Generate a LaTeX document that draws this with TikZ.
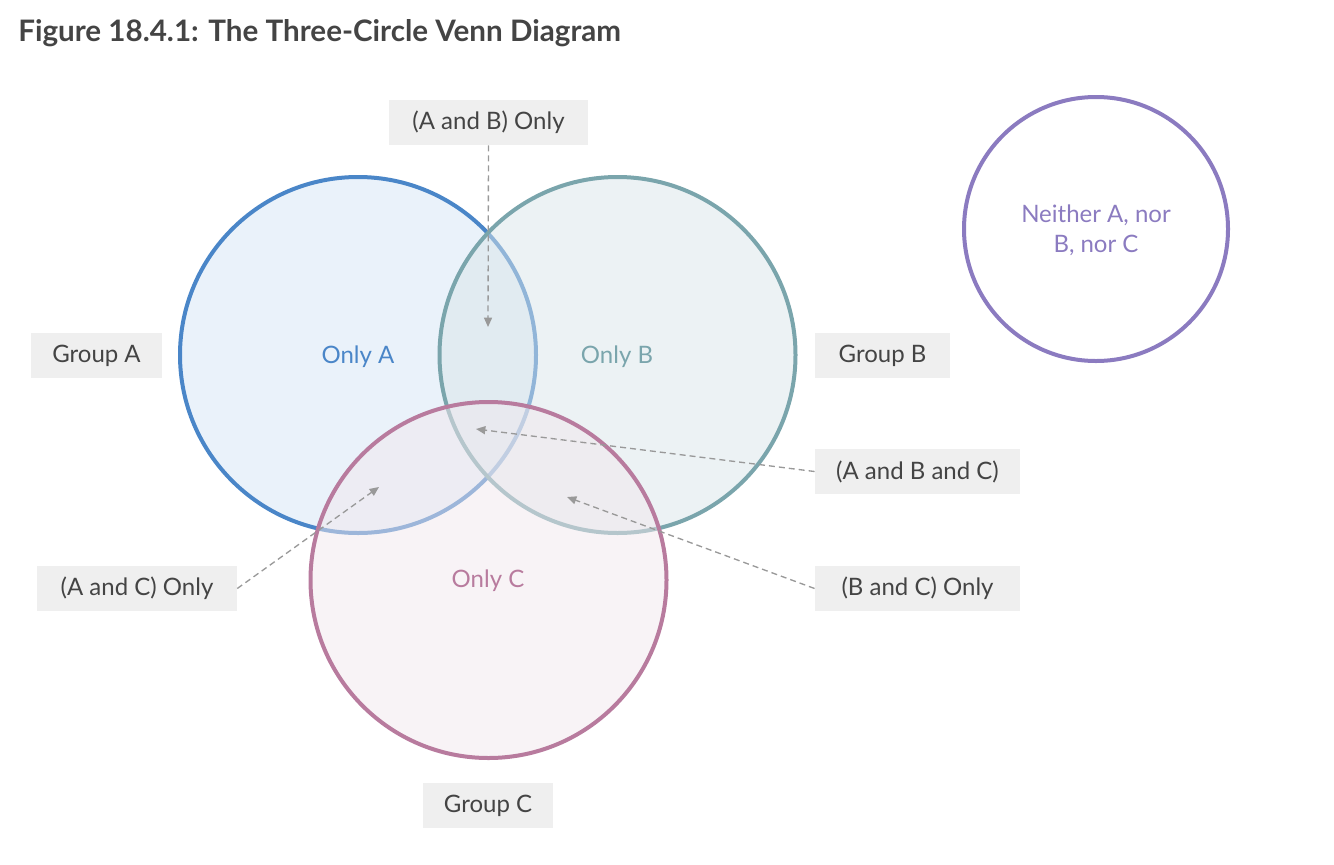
\documentclass[tikz,border=0pt]{standalone}
\usepackage{fontspec}
\setmainfont{Lato}
\usetikzlibrary{arrows.meta}
\definecolor{strA}{HTML}{4A86C8}
\definecolor{strB}{HTML}{7AA5AC}
\definecolor{strC}{HTML}{B87B9E}
\definecolor{strN}{HTML}{8B7BC0}
\definecolor{filA}{RGB}{213,229,245}
\definecolor{filB}{RGB}{217,229,233}
\definecolor{filC}{RGB}{241,231,237}
\definecolor{boxbg}{HTML}{EFEFEF}
\definecolor{txt}{HTML}{444444}
\definecolor{arr}{HTML}{999999}
\tikzset{
  venn/.style={circle, inner sep=0pt, minimum size=267pt, line width=3pt, fill opacity=0.5, text opacity=1},
  lbl/.style={fill=boxbg, text=txt, font=\fontsize{18pt}{21pt}\selectfont, inner sep=0pt, minimum height=34pt},
  inlbl/.style={font=\fontsize{18pt}{21pt}\selectfont, inner sep=0pt},
  pointer/.style={draw=arr, line width=1pt, dash pattern=on 4.5pt off 3pt, -{Triangle[length=7pt,width=6pt]}}
}
\begin{document}
\begin{tikzpicture}[x=0.75pt,y=-0.75pt]
\useasboundingbox (0,0) rectangle (1334,864);
\node[anchor=west, text=txt, font=\fontsize{22.2pt}{26pt}\selectfont\bfseries, inner sep=0pt] (title) at (18,33) {Figure 18.4.1: The Three-Circle Venn Diagram};
% circles
\node[venn, draw=strA, fill=filA] (cA) at (358,355) {};
\node[venn, draw=strB, fill=filB] (cB) at (617.5,355) {};
\node[venn, draw=strC, fill=filC] (cC) at (488.5,580) {};
\node[circle, inner sep=0pt, minimum size=198pt, line width=3pt, draw=strN] (cN) at (1096,229) {};
% inner labels
\node[inlbl, text=strA] (oA) at (358,357) {Only A};
\node[inlbl, text=strB] (oB) at (617,357) {Only B};
\node[inlbl, text=strC] (oC) at (488,581) {Only C};
\node[inlbl, text=strN, align=center, font=\fontsize{18pt}{22.5pt}\selectfont] (oN) at (1096,230) {Neither A, nor\\B, nor C};
% boxed labels
\node[lbl, minimum width=149pt] (AB) at (488.5,122.5) {(A and B) Only};
\node[lbl, minimum width=98pt] (GA) at (96.5,355.5) {Group A};
\node[lbl, minimum width=101pt] (GB) at (882.5,355.5) {Group B};
\node[lbl, minimum width=154pt] (ABC) at (917.5,471.5) {(A and B and C)};
\node[lbl, minimum width=150pt] (AC) at (137,588.5) {(A and C) Only};
\node[lbl, minimum width=154pt] (BC) at (917.5,588.5) {(B and C) Only};
\node[lbl, minimum width=98pt] (GC) at (488,805.5) {Group C};
% pointer targets
\coordinate (tAB) at (488,327);
\coordinate (tABC) at (476,429);
\coordinate (tAC) at (379,487);
\coordinate (tBC) at (567,497);
\draw[pointer] (AB.south) -- (tAB);
\draw[pointer] (ABC.west) -- (tABC);
\draw[pointer] (AC.east) -- (tAC);
\draw[pointer] (BC.west) -- (tBC);
\end{tikzpicture}
\end{document}
